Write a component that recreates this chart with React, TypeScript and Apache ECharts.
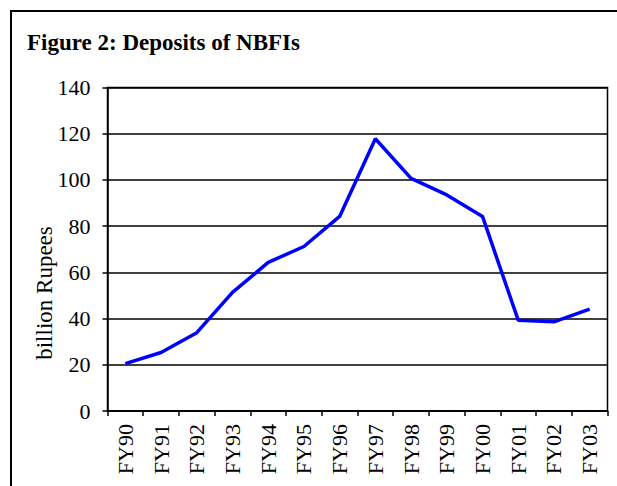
import React, { useEffect, useRef } from "react";
import * as echarts from "echarts";

const categories = ["FY90", "FY91", "FY92", "FY93", "FY94", "FY95", "FY96", "FY97", "FY98", "FY99", "FY00", "FY01", "FY02", "FY03"];
const deposits = [20.5, 25.3, 33.9, 51.3, 64.3, 71.2, 84.2, 117.8, 100.7, 93.5, 84.2, 39.3, 38.6, 44.1];
const titleText = "Figure 2: Deposits of NBFIs";
const yAxisName = "billion Rupees";

const FONT = "'Liberation Serif', 'Times New Roman', serif";

export default function App() {
  const ref = useRef<HTMLDivElement>(null);
  useEffect(() => {
    if (!ref.current) return;
    const chart = echarts.init(ref.current, null, { renderer: "svg" });
    chart.setOption({
      animation: false,
      backgroundColor: "#ffffff",
      graphic: [
        {
          type: "rect",
          shape: { x: 11, y: 11, width: 640, height: 520 },
          style: { fill: "none", stroke: "#000", lineWidth: 2 },
          silent: true,
        },
        {
          type: "text",
          x: 27,
          y: 42,
          style: {
            text: titleText,
            font: `bold 23px ${FONT}`,
            fill: "#000",
            verticalAlign: "middle",
            align: "left",
          },
        },
        {
          type: "text",
          x: 44,
          y: 293,
          rotation: Math.PI / 2,
          style: {
            text: yAxisName,
            font: `23px ${FONT}`,
            fill: "#000",
            align: "center",
            verticalAlign: "middle",
          },
        },
      ],
      grid: {
        left: 107.5,
        right: 9.5,
        top: 87.5,
        bottom: 75,
        show: true,
        borderColor: "#000",
        borderWidth: 1.5,
        backgroundColor: "transparent",
      },
      xAxis: {
        type: "category",
        data: categories,
        boundaryGap: true,
        axisLine: { show: true, lineStyle: { color: "#000", width: 1.5 } },
        axisTick: { show: true, length: 5, alignWithLabel: false, lineStyle: { color: "#000", width: 1.5 } },
        axisLabel: {
          rotate: 90,
          interval: 0,
          margin: 13,
          fontSize: 22,
          fontFamily: FONT,
          color: "#000",
        },
        splitLine: { show: false },
      },
      yAxis: {
        type: "value",
        min: 0,
        max: 140,
        interval: 20,
        axisLine: { show: true, lineStyle: { color: "#000", width: 1.5 } },
        axisTick: { show: true, length: 5, lineStyle: { color: "#000", width: 1.5 } },
        axisLabel: { fontSize: 22, fontFamily: FONT, color: "#000", margin: 17 },
        splitLine: { show: true, lineStyle: { color: "#000", width: 1.5 } },
      },
      series: [
        {
          type: "line",
          data: deposits,
          symbol: "none",
          lineStyle: { color: "#0000ff", width: 3.5 },
        },
      ],
    });
    return () => chart.dispose();
  }, []);
  return (
    <div
      ref={ref}
      style={{ position: "fixed", left: 0, top: 0, width: 617, height: 486 }}
    />
  );
}
